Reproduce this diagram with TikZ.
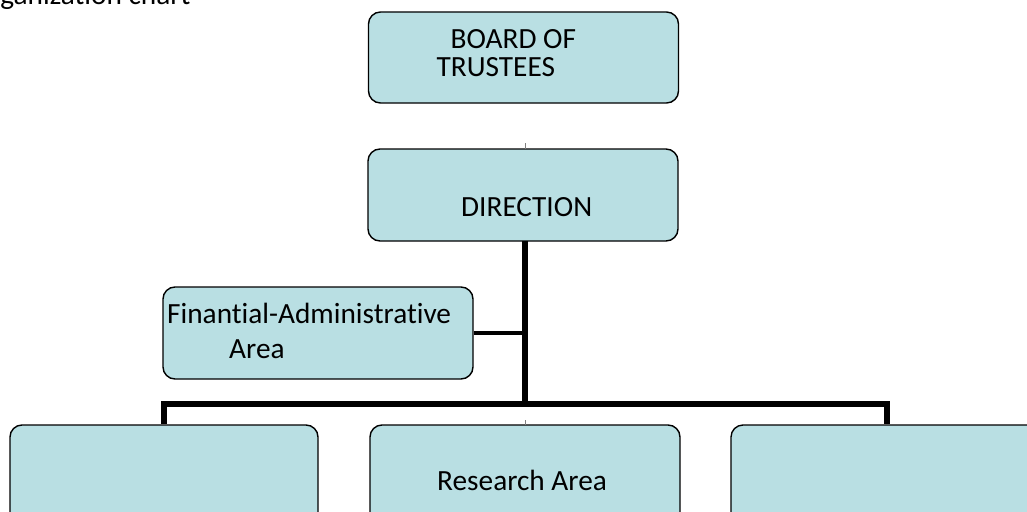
\documentclass[tikz,border=0pt]{standalone}
\usepackage{fontspec}
\setmainfont{Carlito}[Ligatures=NoCommon]
\definecolor{boxfill}{HTML}{B9DFE3}
\begin{document}
\begin{tikzpicture}[x=1pt,y=-1pt,
  orgbox/.style={draw=black,line width=1.4pt,fill=boxfill,rounded corners=12pt,inner sep=0pt},
  txt/.style={inner sep=0pt,font=\fontsize{29.3}{29}\selectfont},
  bus/.style={line width=5.5pt,line join=miter},
  stub/.style={draw=gray,line width=0.8pt}]
\useasboundingbox (0,0) rectangle (1027,511);
% boxes
\node[orgbox,minimum width=310pt,minimum height=91pt] (board) at (523.5,57.5) {};
\node[orgbox,minimum width=310pt,minimum height=92pt] (dir) at (523,195) {};
\node[orgbox,minimum width=310pt,minimum height=92pt] (fin) at (318,333) {};
\node[orgbox,minimum width=308pt,minimum height=110pt] (left) at (164,480) {};
\node[orgbox,minimum width=310pt,minimum height=110pt] (mid) at (525,480) {};
\node[orgbox,minimum width=312pt,minimum height=110pt] (right) at (887,480) {};
% texts
\node[txt,anchor=base west] (title) at (-29,5) {Organization chart};
\node[txt,anchor=base west] (t1) at (450.5,48.3) {BOARD OF};
\node[txt,anchor=base west] (t2) at (436.5,76.7) {TRUSTEES};
\node[txt,anchor=base west] (t3) at (461,216) {DIRECTION};
\node[txt,anchor=base west] (t4) at (167,323) {Finantial-Administrative};
\node[txt,anchor=base west] (t5) at (229,358) {Area};
\node[txt,anchor=base west] (t6) at (437,490) {Research Area};
% connectors
\coordinate (busc) at (525,404);
\coordinate (dirb) at (525,241);
\coordinate (join) at (525,333);
\draw[line width=6pt] (dirb) -- (busc);
\draw[bus] (left.north) |- (busc) -| (right.north);
\draw[line width=4pt] (fin.east) -- (join);
\coordinate (s1a) at (525,143);
\coordinate (s1b) at (525,149);
\coordinate (s2a) at (525,420);
\coordinate (s2b) at (525,425);
\draw[stub] (s1a) -- (s1b);
\draw[stub] (s2a) -- (s2b);
\end{tikzpicture}
\end{document}
